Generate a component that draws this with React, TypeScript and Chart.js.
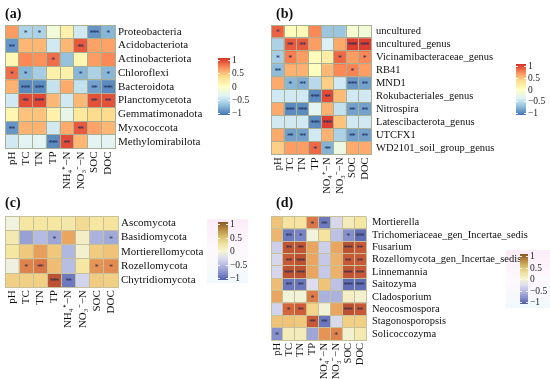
import React, { useEffect, useRef } from "react";
import { Chart, registerables } from "chart.js";
Chart.register(...registerables);

// ---------- data ----------
const colsNH = ["pH", "TC", "TN", "TP", "NH₄⁺−N", "NO₃⁻−N", "SOC", "DOC"];
const colsNO = ["pH", "TC", "TN", "TP", "NO₄⁺−N", "NO₃⁻−N", "SOC", "DOC"];

const rowsA = ["Proteobacteria", "Acidobacteriota", "Actinobacteriota", "Chloroflexi", "Bacteroidota", "Planctomycetota", "Gemmatimonadota", "Myxococcota", "Methylomirabilota"];
const valsA = [
  [0.6, -0.55, -0.55, -0.15, 0.15, -0.4, -0.85, -0.7],
  [-0.85, 0.5, 0.5, -0.4, 0.5, 0.85, 0.58, 0.58],
  [0.08, 0.68, 0.65, 0.78, -0.65, 0.1, 0.6, 0.68],
  [0.78, -0.7, -0.58, 0.15, 0.15, -0.7, -0.55, -0.7],
  [0.52, -0.9, -0.9, -0.45, 0.55, -0.45, -0.8, -0.9],
  [-0.4, 0.9, 0.92, 0.5, -0.4, 0.5, 0.88, 0.88],
  [0.1, 0.45, 0.45, 0.15, -0.25, 0.25, 0.35, 0.35],
  [-0.85, 0.52, 0.52, -0.4, 0.55, 0.85, 0.58, 0.5],
  [-0.4, -0.3, -0.3, -0.9, 0.9, 0.5, -0.3, -0.3],
];
const starsA = [
  [0, 1, 1, 0, 0, 0, 3, 1],
  [2, 0, 0, 0, 0, 2, 0, 0],
  [0, 0, 0, 1, 0, 0, 0, 0],
  [1, 1, 0, 0, 0, 1, 0, 1],
  [0, 3, 3, 0, 0, 0, 2, 3],
  [0, 2, 3, 0, 0, 0, 2, 2],
  [0, 0, 0, 0, 0, 0, 0, 0],
  [2, 0, 0, 0, 0, 2, 0, 0],
  [0, 0, 0, 3, 2, 0, 0, 0],
];

const rowsB = ["uncultured", "uncultured_genus", "Vicinamibacteraceae_genus", "RB41", "MND1", "Rokubacteriales_genus", "Nitrospira", "Latescibacterota_genus", "UTCFX1", "WD2101_soil_group_genus"];
const valsB = [
  [0.82, 0.02, 0.05, 0.68, -0.62, -0.62, -0.1, -0.15],
  [-0.55, 0.85, 0.85, 0.6, -0.35, 0.55, 0.95, 0.95],
  [-0.58, 0.72, 0.6, 0.02, 0.18, 0.8, 0.6, 0.68],
  [-0.68, 0.52, 0.52, 0.0, 0.5, 0.68, 0.7, 0.6],
  [0.55, -0.7, -0.75, -0.5, 0.4, -0.4, -0.85, -0.8],
  [-0.4, -0.4, -0.4, -0.9, 0.9, 0.48, -0.4, -0.4],
  [0.55, -0.9, -0.9, -0.3, 0.52, -0.45, -0.8, -0.8],
  [-0.4, -0.4, -0.4, -0.9, 0.95, 0.45, -0.4, -0.4],
  [0.55, -0.8, -0.8, -0.4, 0.52, -0.55, -0.8, -0.8],
  [0.4, 0.6, 0.6, 0.8, -0.72, -0.2, 0.55, 0.55],
];
const starsB = [
  [1, 0, 0, 0, 0, 0, 0, 0],
  [0, 2, 2, 0, 0, 0, 3, 3],
  [1, 1, 0, 0, 0, 1, 0, 1],
  [2, 0, 0, 0, 0, 0, 1, 0],
  [0, 1, 2, 0, 0, 0, 3, 2],
  [0, 0, 0, 3, 2, 0, 0, 0],
  [0, 3, 3, 0, 0, 0, 2, 2],
  [0, 0, 0, 3, 3, 0, 0, 0],
  [0, 2, 2, 0, 0, 0, 2, 2],
  [0, 0, 0, 1, 2, 0, 0, 0],
];

const rowsC = ["Ascomycota", "Basidiomycota", "Mortierellomycota", "Rozellomycota", "Chytridiomycota"];
const valsC = [
  [0.0, 0.2, 0.2, 0.2, 0.18, 0.28, 0.2, 0.22],
  [0.15, -0.55, -0.4, -0.52, 0.55, 0.08, -0.45, -0.5],
  [0.2, 0.4, 0.58, 0.4, -0.42, 0.05, 0.38, 0.42],
  [-0.02, 0.68, 0.72, 0.45, -0.38, 0.2, 0.62, 0.65],
  [0.35, 0.35, 0.35, 0.9, -0.8, -0.22, 0.38, 0.35],
];
const starsC = [
  [0, 0, 0, 0, 0, 0, 0, 0],
  [0, 0, 0, 1, 0, 0, 0, 1],
  [0, 0, 0, 0, 0, 0, 0, 0],
  [0, 1, 2, 0, 0, 0, 1, 1],
  [0, 0, 0, 3, 2, 0, 0, 0],
];

const rowsD = ["Mortierella", "Trichomeriaceae_gen_Incertae_sedis", "Fusarium", "Rozellomycota_gen_Incertae_sedis", "Linnemannia", "Saitozyma", "Cladosporium", "Neocosmospora", "Stagonosporopsis", "Solicoccozyma"];
const valsD = [
  [0.42, 0.22, 0.22, 0.72, -0.8, -0.2, 0.12, 0.2],
  [0.48, -0.8, -0.72, 0.0, 0.22, -0.35, -0.65, -0.88],
  [-0.25, 0.88, 0.88, 0.55, -0.25, 0.55, 0.9, 0.85],
  [-0.2, 0.85, 0.9, 0.55, -0.3, 0.5, 0.85, 0.85],
  [-0.2, 0.9, 0.9, 0.55, -0.3, 0.5, 0.88, 0.85],
  [0.45, -0.82, -0.82, -0.15, 0.42, -0.35, -0.88, -0.88],
  [0.55, 0.02, 0.02, 0.7, -0.45, -0.45, 0.08, 0.05],
  [-0.22, 0.78, 0.82, 0.32, 0.02, 0.55, 0.9, 0.85],
  [0.42, 0.42, 0.4, 0.85, -0.82, -0.18, 0.35, 0.35],
  [-0.65, 0.12, 0.12, -0.52, 0.62, 0.68, 0.05, 0.15],
];
const starsD = [
  [0, 0, 0, 1, 2, 0, 0, 0],
  [0, 2, 1, 0, 0, 0, 1, 3],
  [0, 2, 2, 0, 0, 0, 3, 2],
  [0, 2, 3, 0, 0, 0, 2, 2],
  [0, 3, 3, 0, 0, 0, 3, 3],
  [0, 2, 2, 0, 0, 0, 3, 3],
  [0, 0, 0, 1, 0, 0, 0, 0],
  [0, 1, 2, 0, 0, 0, 3, 2],
  [0, 0, 0, 2, 2, 0, 0, 0],
  [1, 0, 0, 0, 0, 1, 0, 0],
];

const legendTicks = [1, 0.5, 0, -0.5, -1];

// ---------- colours ----------
type Stop = [number, string];
const stopsRdYlBu: Stop[] = [
  [-1, "#4575B4"], [-2 / 3, "#91BFDB"], [-1 / 3, "#E0F3F8"], [0, "#FFFFBF"],
  [1 / 3, "#FEE090"], [2 / 3, "#FC8D59"], [1, "#D73027"],
];
const stopsCellCD: Stop[] = [
  [-1, "#4E5DAE"], [-0.7, "#7C88C8"], [-0.4, "#B4BAE2"], [-0.15, "#DEDDF0"],
  [0, "#F2F3DE"], [0.2, "#F5E6A2"], [0.4, "#F0C87C"], [0.6, "#E89A58"],
  [0.8, "#D2603A"], [1, "#A8442A"],
];
const stopsBarCD: Stop[] = [
  [-1, "#4E5CAE"], [-0.75, "#8890CC"], [-0.5, "#B4B8E0"], [-0.25, "#DCDDF0"],
  [0, "#F6F4D0"], [0.25, "#EEE2A0"], [0.5, "#D8BE6A"], [0.75, "#B8893E"], [1, "#8A5524"],
];

function hexRgb(h: string) {
  const n = parseInt(h.slice(1), 16);
  return [(n >> 16) & 255, (n >> 8) & 255, n & 255];
}
function interp(stops: Stop[], v: number) {
  v = Math.max(-1, Math.min(1, v));
  for (let i = 0; i < stops.length - 1; i++) {
    const [v0, c0] = stops[i];
    const [v1, c1] = stops[i + 1];
    if (v >= v0 && v <= v1) {
      const t = (v - v0) / (v1 - v0);
      const a = hexRgb(c0), b = hexRgb(c1);
      const m = a.map((x, k) => Math.round(x + (b[k] - x) * t));
      return `rgb(${m[0]},${m[1]},${m[2]})`;
    }
  }
  return stops[stops.length - 1][1];
}
const fmt = (v: number) => (v === 0 ? "0" : v < 0 ? "−" + String(-v) : String(v));

const FAM = '"Liberation Serif","Times New Roman",serif';

// ---------- panel layout ----------
const panels = [
  {
    tag: "a", title: "(a)", titlePos: [5, 18], x: 0, y: 0, w: 265, h: 200,
    grid: [5, 25, 115, 148.5], labelPad: 3, font: 11,
    rows: rowsA, cols: colsNH, vals: valsA, stars: starsA,
    cellStops: stopsRdYlBu, barStops: stopsRdYlBu, cb: [218, 58, 12, 57], glow: null,
    gridColor: "#a9b096", starColor: "#1f3060",
  },
  {
    tag: "b", title: "(b)", titlePos: [276, 18], x: 265, y: 0, w: 285, h: 200,
    grid: [271.7, 25, 371, 154.5], labelPad: 5, font: 10.5,
    rows: rowsB, cols: colsNO, vals: valsB, stars: starsB,
    cellStops: stopsRdYlBu, barStops: stopsRdYlBu, cb: [516, 64, 10, 51], glow: null,
    gridColor: "#a9b096", starColor: "#1f3060",
  },
  {
    tag: "c", title: "(c)", titlePos: [5, 207], x: 0, y: 190, w: 265, h: 189,
    grid: [5, 216.2, 118, 287.2], labelPad: 3, font: 11,
    rows: rowsC, cols: colsNH, vals: valsC, stars: starsC,
    cellStops: stopsCellCD, barStops: stopsBarCD, cb: [218, 222, 10, 58], glow: [207, 219, 41, 64],
    gridColor: "#c6c19a", starColor: "#33304a",
  },
  {
    tag: "d", title: "(d)", titlePos: [276, 207], x: 265, y: 190, w: 285, h: 189,
    grid: [271, 216.5, 366, 340], labelPad: 6, font: 10.5,
    rows: rowsD, cols: colsNO, vals: valsD, stars: starsD,
    cellStops: stopsCellCD, barStops: stopsBarCD, cb: [520, 254, 8, 50], glow: [506, 250, 44, 58],
    gridColor: "#c6c19a", starColor: "#33304a",
  },
];

function makeChart(canvas: HTMLCanvasElement, P: any) {
  const nR = P.rows.length;
  const L = P.grid[0] - P.x, T = P.grid[1] - P.y, R = P.grid[2] - P.x, B = P.grid[3] - P.y;
  const datasets = P.rows.map((r: string, i: number) => ({
    label: r,
    data: P.cols.map(() => [i, i + 1]),
    backgroundColor: P.vals[i].map((v: number) => interp(P.cellStops, v)),
    borderWidth: 0,
    barPercentage: 1,
    categoryPercentage: 1,
    grouped: false,
  }));
  const overlay = {
    id: "overlay" + P.tag,
    beforeDraw(chart: any) {
      if (!P.glow) return;
      const ctx = chart.ctx;
      const [gx, gy, gw, gh] = P.glow;
      const g = ctx.createLinearGradient(0, gy - P.y, 0, gy - P.y + gh);
      g.addColorStop(0, "rgba(250,228,245,0.7)");
      g.addColorStop(0.5, "rgba(252,242,250,0.5)");
      g.addColorStop(1, "rgba(234,246,250,0.7)");
      ctx.save();
      ctx.fillStyle = g;
      ctx.fillRect(gx - P.x, gy - P.y, gw, gh);
      ctx.restore();
    },
    afterDraw(chart: any) {
      const ctx = chart.ctx;
      const xs = chart.scales.x, ys = chart.scales.y;
      ctx.save();
      // significance stars
      ctx.fillStyle = P.starColor;
      ctx.font = `8px ${FAM}`;
      ctx.textAlign = "center";
      ctx.textBaseline = "alphabetic";
      const sp = 2.8;
      P.stars.forEach((row: number[], i: number) =>
        row.forEach((s: number, j: number) => {
          if (!s) return;
          const cx = xs.getPixelForValue(j);
          const cy = ys.getPixelForValue(i + 0.5);
          for (let k = 0; k < s; k++) {
            ctx.fillText("*", cx + (k - (s - 1) / 2) * sp, cy + 4);
          }
        })
      );
      // colour bar
      const bx = P.cb[0] - P.x, by = P.cb[1] - P.y, bw = P.cb[2], bh = P.cb[3];
      const g = ctx.createLinearGradient(0, by, 0, by + bh);
      P.barStops.forEach(([v, c]: Stop) => g.addColorStop((1 - v) / 2, c));
      ctx.fillStyle = g;
      ctx.fillRect(bx, by, bw, bh);
      ctx.font = `9.5px ${FAM}`;
      ctx.textAlign = "left";
      ctx.textBaseline = "middle";
      legendTicks.forEach((v) => {
        const ty = Math.round(by + 2 + ((1 - v) / 2) * (bh - 4)) + 0.5;
        ctx.strokeStyle = "rgba(255,255,255,0.9)";
        ctx.lineWidth = 1;
        ctx.beginPath();
        ctx.moveTo(bx, ty); ctx.lineTo(bx + 2, ty);
        ctx.moveTo(bx + bw - 2, ty); ctx.lineTo(bx + bw, ty);
        ctx.stroke();
        ctx.fillStyle = "#222";
        ctx.fillText(fmt(v), bx + bw + 2, ty);
      });
      // panel tag
      ctx.font = `bold 14px ${FAM}`;
      ctx.fillStyle = "#111";
      ctx.textBaseline = "alphabetic";
      ctx.fillText(P.title, P.titlePos[0] - P.x, P.titlePos[1] - P.y);
      ctx.restore();
    },
  };
  return new Chart(canvas, {
    type: "bar",
    data: { labels: P.cols, datasets },
    options: {
      animation: false,
      responsive: false,
      events: [],
      layout: { padding: { left: L, top: T, right: 0, bottom: 0 } },
      plugins: { legend: { display: false }, tooltip: { enabled: false }, title: { display: false } },
      scales: {
        x: {
          type: "category",
          position: "bottom",
          offset: true,
          grid: { offset: true, color: P.gridColor, lineWidth: 1, drawTicks: false, z: 1 },
          border: { display: true, color: P.gridColor, z: 1 },
          ticks: { minRotation: 90, maxRotation: 90, autoSkip: false, padding: 3, color: "#111", font: { family: FAM, size: P.font } },
          afterFit: (s: any) => { s.height = P.h - B; },
        },
        y: {
          type: "linear",
          position: "left",
          min: 0,
          max: nR,
          reverse: true,
          grid: { color: P.gridColor, lineWidth: 1, drawTicks: false, z: 1 },
          border: { display: true, color: P.gridColor, z: 1 },
          ticks: { display: false, stepSize: 1 },
          afterFit: (s: any) => { s.width = 0; },
        },
        yl: {
          type: "category",
          position: "right",
          labels: P.rows,
          offset: true,
          grid: { display: false, drawTicks: false },
          border: { display: false },
          ticks: { padding: P.labelPad, autoSkip: false, color: "#111", font: { family: FAM, size: P.font } },
          afterFit: (s: any) => { s.width = P.w - R; },
        },
      },
    } as any,
    plugins: [overlay],
  });
}

function Panel({ P }: { P: any }) {
  const ref = useRef<HTMLCanvasElement>(null);
  useEffect(() => {
    const chart = makeChart(ref.current!, P);
    return () => chart.destroy();
  }, []);
  return (
    <canvas
      ref={ref}
      width={P.w}
      height={P.h}
      style={{ position: "absolute", left: P.x, top: P.y, width: P.w, height: P.h }}
    />
  );
}

export default function App() {
  return (
    <div style={{ position: "fixed", left: 0, top: 0, width: 550, height: 379, background: "#fff", overflow: "hidden" }}>
      {panels.map((P) => (
        <Panel key={P.tag} P={P} />
      ))}
    </div>
  );
}
